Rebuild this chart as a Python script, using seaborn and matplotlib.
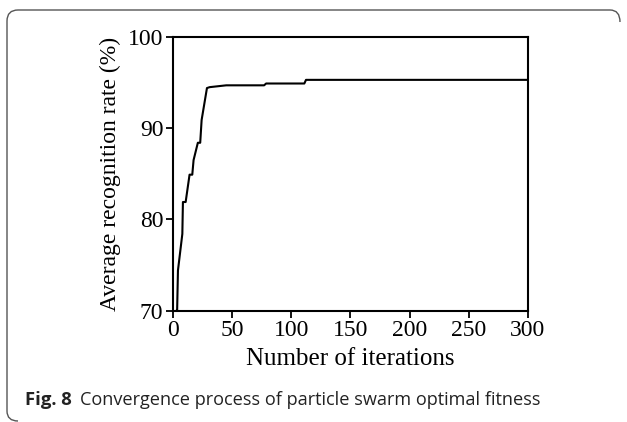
import matplotlib
matplotlib.use("Agg")
import matplotlib.pyplot as plt
import seaborn as sns
import pandas as pd
from matplotlib.path import Path
from matplotlib.patches import PathPatch

iterations = [3, 3.5, 4.2, 7.9, 8.4, 10.7, 14, 16.3, 17.4, 21, 23, 24.2, 28.7, 31, 45, 77, 78.7, 111, 112.4, 300]
recognition = [70, 70, 74.4, 78.4, 81.9, 81.9, 84.9, 84.9, 86.5, 88.4, 88.4, 90.9, 94.4, 94.5, 94.7, 94.7, 94.9, 94.9, 95.3, 95.3]
x_ticks = [0, 50, 100, 150, 200, 250, 300]
y_ticks = [70, 80, 90, 100]

sns.set_theme(style="ticks")
plt.rcParams['font.family'] = ['Liberation Serif', 'DejaVu Serif']

df = pd.DataFrame({"iter": iterations, "rate": recognition})

fig = plt.figure(figsize=(6.27, 4.22), dpi=100)
ax = fig.add_axes([0.2759, 0.2642, 0.8421 - 0.2759, 0.9123 - 0.2642])
sns.lineplot(data=df, x="iter", y="rate", ax=ax, color="black", linewidth=1.5, sort=False, estimator=None)
ax.set_xlim(0, 300)
ax.set_ylim(70, 100)
ax.set_xticks(x_ticks)
ax.set_yticks(y_ticks)
ax.tick_params(labelsize=17, length=5, width=1.3, color="black", labelcolor="black", pad=2)
for s in ax.spines.values():
    s.set_visible(True)
    s.set_linewidth(1.5)
    s.set_color("black")
ax.set_xlabel("Number of iterations", fontsize=18, color="black", labelpad=5)
ax.set_ylabel("Average recognition rate (%)", fontsize=17, color="black", labelpad=5)

# Border (left + top, rounded)
W, H = 627, 422
def fx(px): return px / W
def fy(py): return 1 - py / H
verts = [(fx(620), fy(22)), (fx(620), fy(10)), (fx(610), fy(10)),
         (fx(18), fy(10)), (fx(7), fy(10)), (fx(7), fy(21)),
         (fx(7), fy(411)), (fx(7), fy(421)), (fx(18), fy(421))]
codes = [Path.MOVETO, Path.CURVE3, Path.CURVE3, Path.LINETO, Path.CURVE3, Path.CURVE3,
         Path.LINETO, Path.CURVE3, Path.CURVE3]
fig.patches.append(PathPatch(Path(verts, codes), transform=fig.transFigure, fill=False,
                             edgecolor="#555555", linewidth=1.0))

t1 = fig.text(fx(25), fy(400), "Fig. 8", fontsize=13.3, fontweight="bold",
              family=['Open Sans', 'DejaVu Sans'], va="center", ha="left", color="#222222")
fig.canvas.draw()
bb = t1.get_window_extent()
fig.text(bb.x1 / W + fx(8), fy(400), "Convergence process of particle swarm optimal fitness",
         fontsize=13.1, family=['Open Sans', 'DejaVu Sans'], va="center", ha="left", color="#222222")

fig.savefig("out.png", dpi=100)
